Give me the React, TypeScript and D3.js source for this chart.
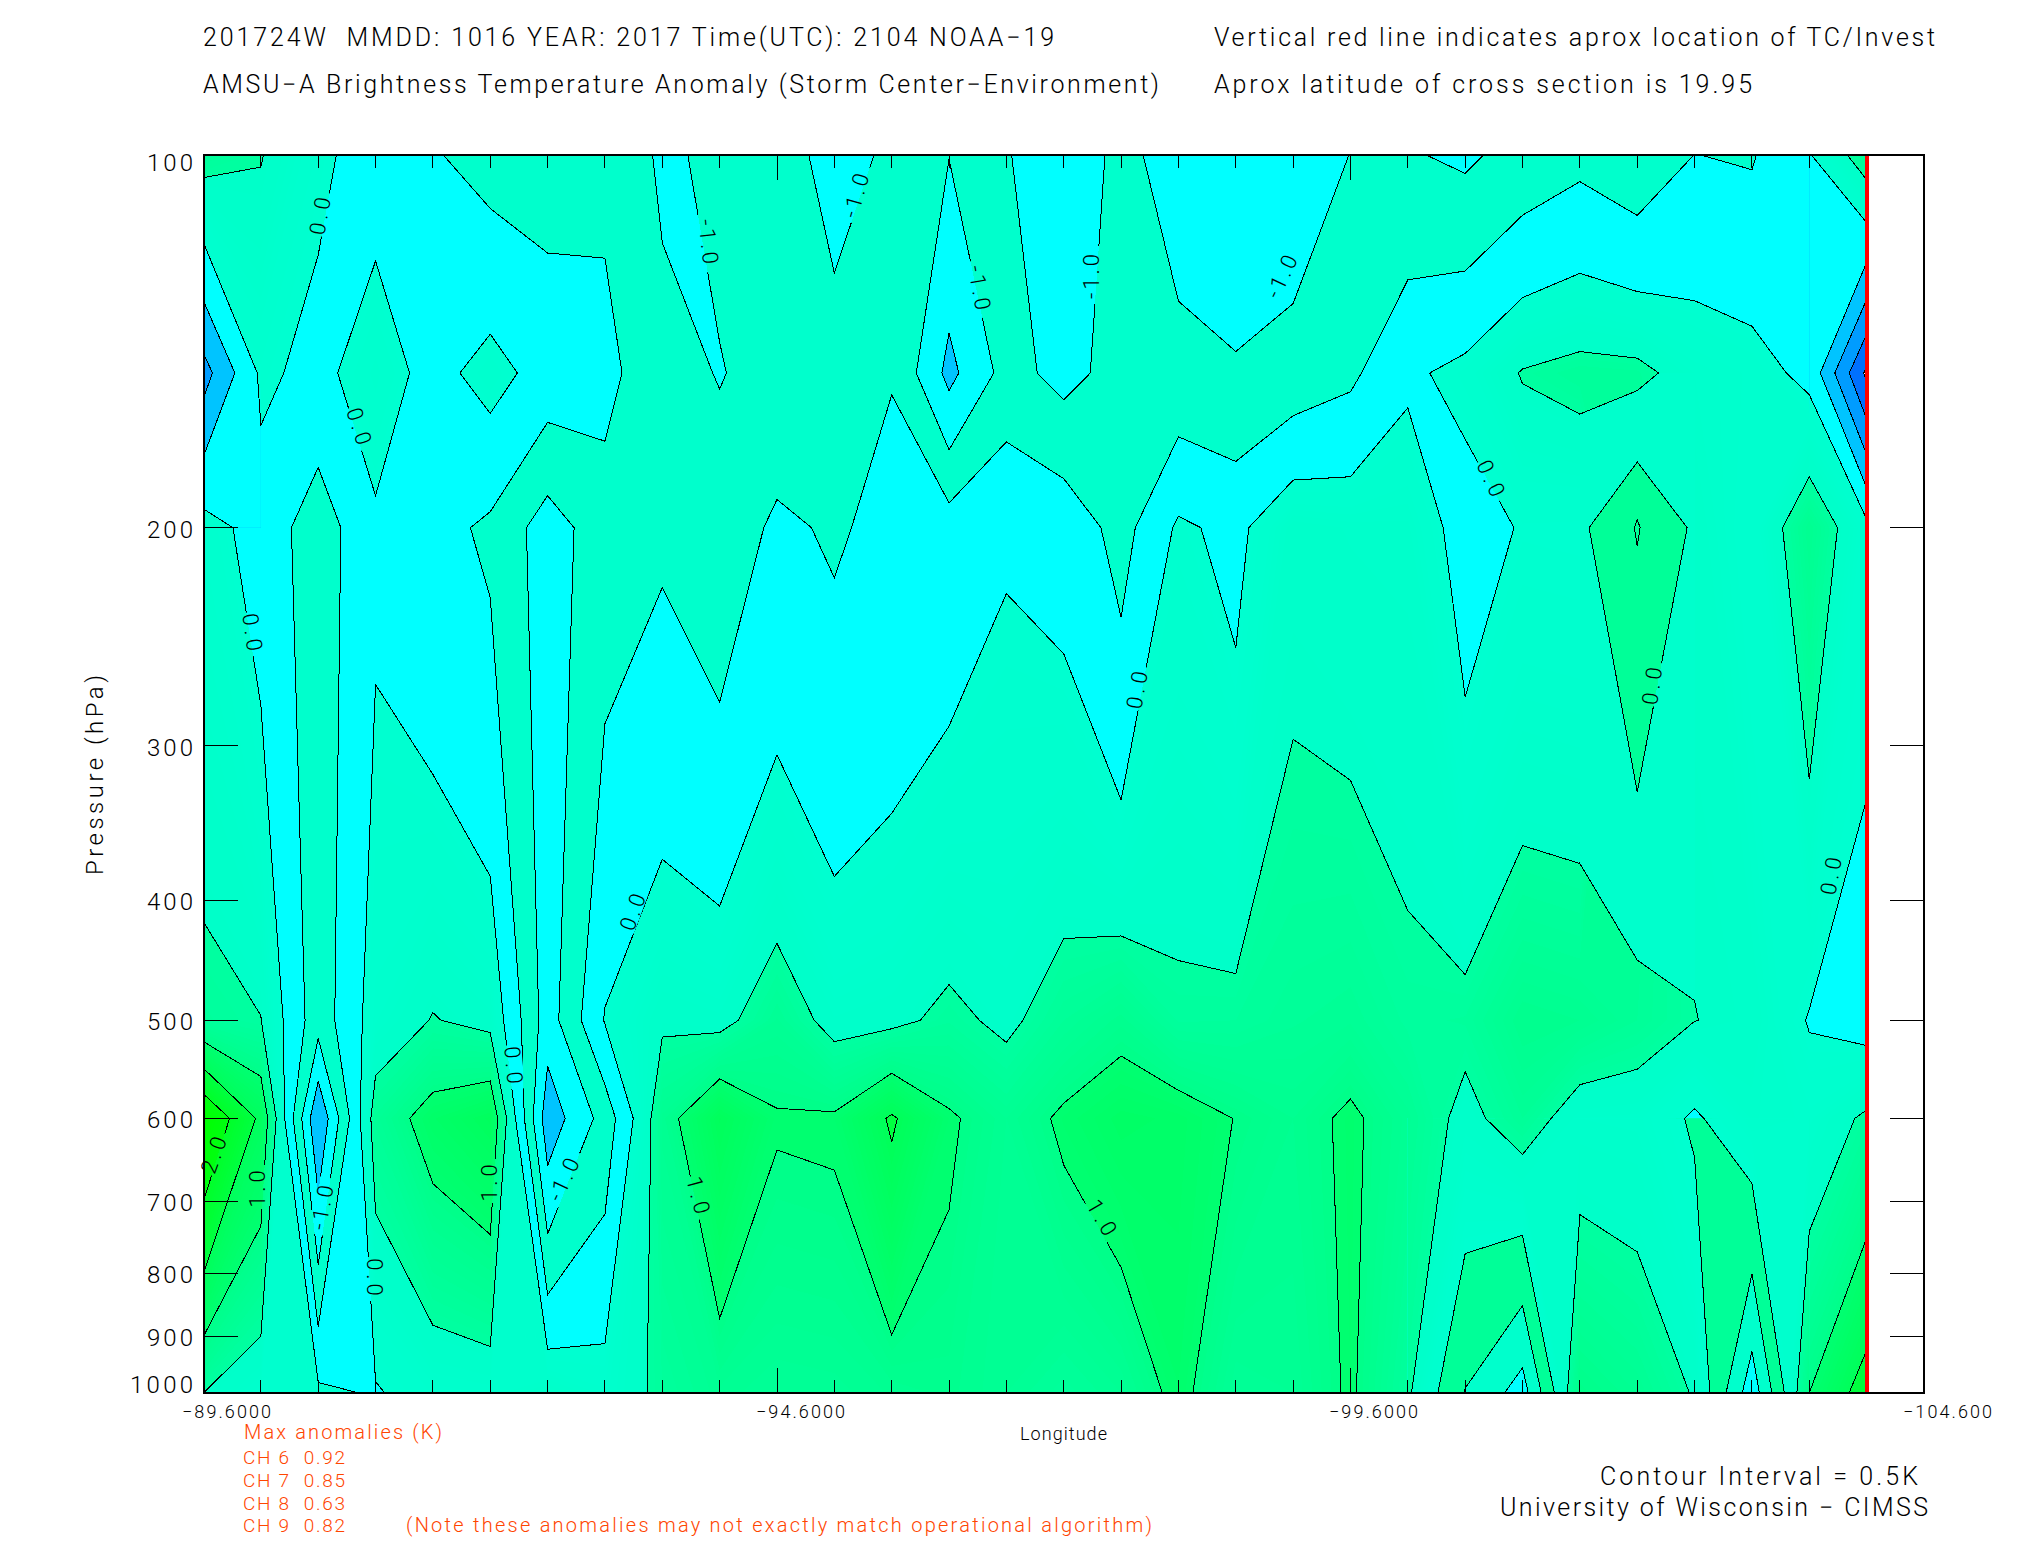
import React from "react";
import * as d3 from "d3";

const t100 = [.66,.52,.083,-.18,-.46,-.68,-.7,-.61,-1.08,-.9,-.64,-1.29,-.87,-.99,-.96,-1.4,-.844,-1.25,-1.45,-1.35,-.99,-.96,-1.085,-.82,-.63,-.85,-.495,-.54,-.03,.77];
const t150 = [-1.2,.08,-.12,.233,-.16,.18,-.2,-.35,-.855,-1.02,-.85,-.7,-.52,-1.64,-.82,-1.155,-.82,-.85,-.94,-.8,-.6,-.08,.13,.53,.65,.62,.3,.18,-.12,-2.1];
const t200 = [.19,-.18,-.78,-.07,-.33,-.59,-1.24,-.72,-.58,-.8,-.41,-.56,-.36,-.25,-.04,-.15,-.69,.077,-.12,.41,.34,.32,-.2,.035,.02,1.02,.42,.1,.85,.14];
const t500 = [.62,.51,-.8,.24,.52,.38,-1.25,.03,.44,.375,.76,.36,.41,.59,.42,.7,.88,.59,.6,.69,.74,.58,.61,.9,.85,.7,.505,.43,-.03,-.18];
const t600 = [2.5,1.4,-1.97,.72,1.19,1.42,-1.81,-.8,.82,1.46,1.03,1.05,1.55,1.05,.8,1.06,1.23,1.18,.99,.85,1.07,.77,.39,.7,.3,.28,-.06,.31,.23,.57];
const t1000 = [.5,.2,.1,-.04,.21,.26,.44,.225,.6,.78,.7,.72,.81,.87,.75,.62,.75,1.097,.71,.75,1.05,.57,-.52,-1.22,.98,.8,.47,-1.3,1.0,1.72];
const pressureLevels = [100, 150, 200, 500, 600, 1000];
const rows = [t100, t150, t200, t500, t600, t1000];
const nCols = t100.length;
const lonStart = -89.6;
const lonStep = -0.5;

const pressureTicks = [200, 300, 400, 500, 600, 700, 800, 900];
const lonMajor = [-89.6, -94.6, -99.6];
const lonTickCount = 30;

// [column position, pressure] pairs of the isolated spike near column 25
const gapUpper = [[24,161.9],[25,155],[25.37,150],[26,150],[26,200],[25.87,200],[25,177],[24.16,200],[24,200]];
const gapLower = [[24,200],[24.16,200],[25,327],[25.87,200],[26,200],[26,482],[25,447],[24,373.5]];
const kite = [[24.16,200],[25,177],[25.87,200],[25,327]];
const kiteCore = [[25,197],[24.95,200],[25,207],[25.05,200]];
const spikeEdges = [
  [[24,161.9],[25,155],[25.37,150]],
  [[24,373.5],[25,447],[26,482]],
];

const contourLabels: [string, number, number, number][] = [
  ["0.0", 320, 214, -80], ["0.0", 360, 428, 72], ["-1.0", 709, 243, 84], ["-1.0", 856, 194, -74],
  ["-1.0", 980, 289, 80], ["-1.0", 1091, 275, -90], ["-1.0", 1282, 275, -65], ["0.0", 1492, 480, 65],
  ["0.0", 253, 634, 82], ["0.0", 633, 910, -70], ["0.0", 1137, 688, -80], ["0.0", 1652, 684, -82],
  ["0.0", 1831, 874, -80], ["0.0", 514, 1067, 85], ["2.0", 214, 1153, -70], ["1.0", 257, 1187, -90],
  ["-1.0", 322, 1206, -80], ["0.0", 375, 1279, 90], ["1.0", 489, 1181, -90], ["-1.0", 564, 1178, -65],
  ["1.0", 699, 1197, 75], ["1.0", 1103, 1219, 60],
];

const W = 2025, H = 1550;
const L = 203.5, R = 1924, T = 155, B = 1393;
const x = d3.scaleLinear().domain([-89.6, -104.6]).range([L, R]);
const y = d3.scaleLog().domain([100, 1000]).range([T, B]);
const colX = (c: number) => x(lonStart + lonStep * c);
const TEAL = "#00ffcc", CYAN = "#00ffff", GREEN_LOW = "#00ff98";

// The blue channel drops by about 48 per band with a slight gradient inside each band.
const bandBlue = [[208, 200], [160, 136], [112, 88], [64, 40], [16, 0], [0, 0]];
function greenFor(v: number) {
  const i = Math.min(bandBlue.length - 1, Math.floor(v / .5));
  const f = v / .5 - Math.floor(v / .5);
  const b = bandBlue[i][0] + (bandBlue[i][1] - bandBlue[i][0]) * f;
  return `rgb(0,255,${Math.round(b)})`;
}

const values = rows.flat();

function rowToY(r: number) {
  if (r < 0) return T - 30;
  if (r > rows.length - 1) return B + 30;
  const i = Math.min(Math.floor(r), rows.length - 2);
  const f = r - i;
  return y(pressureLevels[i] + (pressureLevels[i + 1] - pressureLevels[i]) * f);
}
const proj = d3.geoTransform({
  point(px: number, py: number) {
    const c = px - .5;
    (this as any).stream.point(c < 0 ? L - 30 : c > nCols - 1 ? colX(nCols - 1) + 30 : colX(c), rowToY(py - .5));
  },
});
const pathGen = d3.geoPath(proj);
const contourGen = d3.contours().size([nCols, rows.length]);
const isoAbove = (t: number) => pathGen(contourGen.contour(values, t) as any) || "";
const poly = (pts: number[][], close = true) =>
  (d3.line()(pts.map(([c, p]) => [colX(c), y(p)]) as any) || "") + (close ? "Z" : "");

const positiveSteps: [number, string][] = d3.range(0, 2.6, .05).map(t => [+t.toFixed(2), greenFor(t + .001)] as [number, string]);
const mainSteps: [number, string][] = [[-2, "#00c4ff"], [-1.5, CYAN], [-1, TEAL], [-.5, CYAN], ...positiveSteps];
const deepSteps: [number, string][] = [[-2, "#0070ff"], [-1.5, "#009cff"], [-1, "#00c4ff"], [-.5, CYAN], ...positiveSteps];
const lowerSteps: [number, string][] = [[-1, TEAL], [-.5, GREEN_LOW], ...positiveSteps];
const lineLevels = d3.range(-2, 3, .5);

const FONT = "Roboto, 'Liberation Sans', sans-serif";
function Txt({ x: tx, y: ty, w, size, fill = "#000", children, anchor = "start", transform }: any) {
  return (
    <text x={tx} y={ty} fontFamily={FONT} fontWeight={300} fontSize={size} fill={fill} textAnchor={anchor}
      textLength={w} lengthAdjust={w ? "spacing" : undefined} transform={transform} xmlSpace="preserve">
      {children}
    </text>
  );
}

function Bands({ steps, base }: { steps: [number, string][]; base: string }) {
  return (
    <g>
      <rect x={L} y={T} width={R - L} height={B - T} fill={base} />
      {steps.map(([t, c]) => <path key={t} d={isoAbove(t)} fill={c} />)}
    </g>
  );
}

export default function App() {
  const minor = d3.range(0, lonTickCount + 1).map(i => lonStart + lonStep * i);
  const isMajor = (l: number) => lonMajor.some(m => Math.abs(m - l) < 1e-6);
  return (
    <svg width={W} height={H} viewBox={`0 0 ${W} ${H}`} style={{ position: "absolute", left: 0, top: 0, display: "block", background: "#fff" }}>
      <defs>
        <clipPath id="data"><rect x={L} y={T} width={colX(nCols - 1) - L} height={B - T} /></clipPath>
        <clipPath id="deepLeft"><rect x={L} y={y(100)} width={colX(1) - L} height={y(200) - y(100)} /></clipPath>
        <clipPath id="deepRight"><rect x={colX(28)} y={y(100)} width={colX(29) - colX(28)} height={y(200) - y(100)} /></clipPath>
        <clipPath id="lowerRight"><rect x={colX(21)} y={y(600)} width={colX(28) - colX(21)} height={y(1000) - y(600)} /></clipPath>
        <mask id="labelGaps" maskUnits="userSpaceOnUse" x={0} y={0} width={W} height={H}>
          <rect x={0} y={0} width={W} height={H} fill="#fff" />
          {contourLabels.map(([s, lx, ly, r], i) => (
            <rect key={i} x={lx - (s.length > 3 ? 29 : 22)} y={ly - 9} width={s.length > 3 ? 58 : 44} height={18}
              fill="#000" transform={`rotate(${r} ${lx} ${ly})`} />
          ))}
        </mask>
      </defs>

      <g clipPath="url(#data)" shapeRendering="crispEdges">
        <Bands steps={mainSteps} base="#009cff" />
        <g clipPath="url(#deepLeft)"><Bands steps={deepSteps} base="#ffffff" /></g>
        <g clipPath="url(#deepRight)"><Bands steps={deepSteps} base="#ffffff" /></g>
        <g clipPath="url(#lowerRight)"><Bands steps={lowerSteps} base={CYAN} /></g>
        <g mask="url(#labelGaps)">
          {lineLevels.map(t => <path key={t} d={isoAbove(t)} fill="none" stroke="#000" strokeWidth={1} />)}
        </g>
        <path d={poly(gapUpper)} fill={TEAL} />
        <path d={poly(gapLower)} fill={TEAL} />
        <path d={poly(kite)} fill={GREEN_LOW} />
        <g mask="url(#labelGaps)" fill="none" stroke="#000" strokeWidth={1}>
          <path d={poly(kite)} />
          <path d={poly(kiteCore)} />
          {spikeEdges.map((e, i) => <path key={i} d={poly(e, false)} />)}
        </g>
      </g>

      {contourLabels.map(([s, lx, ly, r], i) => (
        <text key={i} x={lx} y={ly + 8} textAnchor="middle" fontFamily={FONT} fontWeight={300} fontSize={22}
          letterSpacing={s.length > 3 ? 3 : 4} transform={`rotate(${r} ${lx} ${ly})`}>{s}</text>
      ))}

      <g stroke="#000" strokeWidth={1} shapeRendering="crispEdges">
        {minor.map(l => {
          const len = isMajor(l) ? 25 : 13;
          return (
            <g key={l}>
              <line x1={x(l)} x2={x(l)} y1={T} y2={T + len} />
              <line x1={x(l)} x2={x(l)} y1={B} y2={B - len} />
            </g>
          );
        })}
        {pressureTicks.map(p => (
          <g key={p}>
            <line x1={L} x2={L + 34} y1={y(p)} y2={y(p)} />
            <line x1={R - 34} x2={R} y1={y(p)} y2={y(p)} />
          </g>
        ))}
      </g>
      <line x1={colX(nCols - 1)} x2={colX(nCols - 1)} y1={T} y2={B} stroke="#ff0000" strokeWidth={4} shapeRendering="crispEdges" />
      <rect x={L} y={T} width={R - L} height={B - T} fill="none" stroke="#000" strokeWidth={2} shapeRendering="crispEdges" />

      <Txt x={203} y={46} w={851} size={25}>{"201724W  MMDD: 1016 YEAR: 2017 Time(UTC): 2104 NOAA\u221219"}</Txt>
      <Txt x={203} y={93} w={956} size={25}>{"AMSU\u2212A Brightness Temperature Anomaly (Storm Center\u2212Environment)"}</Txt>
      <Txt x={1214} y={46} w={721} size={25}>Vertical red line indicates aprox location of TC/Invest</Txt>
      <Txt x={1214} y={93} w={538} size={25}>Aprox latitude of cross section is 19.95</Txt>

      {[100, ...pressureTicks, 1000].map(p => (
        <Txt key={p} x={p === 1000 ? 130 : 147} y={p === 100 ? 171 : p === 1000 ? 1393 : y(p) + 10} w={p === 1000 ? 63 : 46} size={24}>{p}</Txt>
      ))}
      <Txt x={0} y={0} w={200} size={24} anchor="middle" transform="translate(103 775) rotate(-90)">Pressure (hPa)</Txt>

      <Txt x={182} y={1418} w={89} size={18}>{"\u221289.6000"}</Txt>
      <Txt x={756} y={1418} w={89} size={18}>{"\u221294.6000"}</Txt>
      <Txt x={1329} y={1418} w={89} size={18}>{"\u221299.6000"}</Txt>
      <Txt x={1903} y={1418} w={89} size={18}>{"\u2212104.600"}</Txt>
      <Txt x={1020} y={1440} w={87} size={18}>Longitude</Txt>

      <Txt x={244} y={1439} w={198} size={20} fill="#ff4500">Max anomalies (K)</Txt>
      <Txt x={243} y={1464} w={102} size={19} fill="#ff4500">{"CH 6  0.92"}</Txt>
      <Txt x={243} y={1487} w={102} size={19} fill="#ff4500">{"CH 7  0.85"}</Txt>
      <Txt x={243} y={1510} w={102} size={19} fill="#ff4500">{"CH 8  0.63"}</Txt>
      <Txt x={243} y={1532} w={102} size={19} fill="#ff4500">{"CH 9  0.82"}</Txt>
      <Txt x={406} y={1532} w={746} size={20} fill="#ff4500">(Note these anomalies may not exactly match operational algorithm)</Txt>

      <Txt x={1600} y={1485} w={318} size={25}>Contour Interval = 0.5K</Txt>
      <Txt x={1500} y={1516} w={428} size={25}>{"University of Wisconsin \u2212 CIMSS"}</Txt>
    </svg>
  );
}
